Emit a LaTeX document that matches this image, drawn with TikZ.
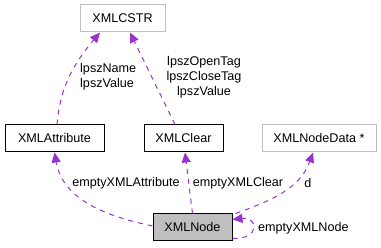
\documentclass[tikz,border=0pt]{standalone}
\usepackage{fontspec}
\setmainfont{Liberation Sans}
\usepackage{tikz}
\usetikzlibrary{arrows.meta}
\definecolor{edgepurple}{HTML}{9A32CD}
\definecolor{boxgray}{HTML}{BFBFBF}
\tikzstyle{every node}=[inner sep=0pt, font=\fontsize{12.6}{15}\selectfont]
\tikzset{cls/.style={draw=black, fill=white, line width=1pt, minimum height=27pt}}
\tikzset{ext/.style={cls, draw=boxgray}}
\tikzset{cur/.style={cls, fill=boxgray}}
\tikzset{member/.style={edgepurple, line width=1pt, dash pattern=on 5pt off 5pt,
      -{Triangle[length=10pt,width=9pt]}}}

\begin{document}
\begin{tikzpicture}[x=1pt,y=1pt]
		\useasboundingbox (0,0) rectangle (381,248);
		\node[ext, minimum width=85pt] (cstr) at (122.5,229.5) {XMLCSTR};
		\node[cls, minimum width=99pt] (attr) at (54.5,109.5) {XMLAttribute};
		\node[cls, minimum width=79pt] (clear) at (183.5,109.5) {XMLClear};
		\node[ext, minimum width=114pt] (data) at (319,109.5) {XMLNodeData *};
		\node[cur, minimum width=79pt] (xnode) at (192.5,20.5) {XMLNode};
		\draw[member] ([xshift=2.5pt]attr.north) to[out=85,in=-130] ([xshift=-22.5pt]cstr.south);
		\draw[member] ([xshift=-8.5pt]clear.north) -- ([xshift=7.5pt]cstr.south);
		\draw[member] ([yshift=1.5pt]xnode.west) to[out=168,in=-80] (attr.south);
		\draw[member] (xnode.north) -- ([xshift=1.5pt]clear.south);
		\draw[member] ([xshift=3pt]xnode.north east) to[out=20,in=-110] ([xshift=-6pt]data.south);
		\draw[member] ([yshift=3pt]xnode.south east) .. controls +(28,-1) and +(26,3) .. ([yshift=-6pt]xnode.north east);
		\node[anchor=west, align=left] (lnames) at (80,171) {lpszName\\lpszValue};
		\node[align=center] (ltags) at (204,171) {lpszOpenTag\\lpszCloseTag\\lpszValue};
		\node (lattr) at (126,65) {emptyXMLAttribute};
		\node (lclear) at (238,65) {emptyXMLClear};
		\node (ld) at (308,65) {d};
		\node[anchor=west] (lself) at (258,20) {emptyXMLNode};
\end{tikzpicture}
\end{document}
